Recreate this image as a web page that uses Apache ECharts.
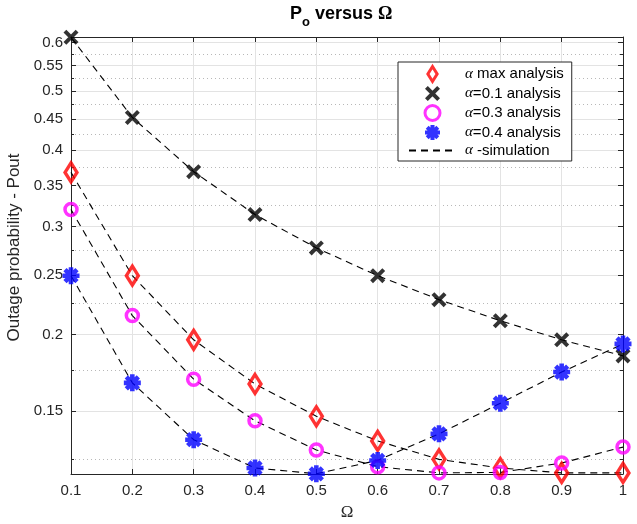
<!DOCTYPE html>
<html>
<head>
<meta charset="utf-8">
<script src="https://cdn.jsdelivr.net/npm/echarts@6/dist/echarts.min.js"></script>
<style>
html,body{margin:0;padding:0;background:#fff;}
#chart{width:637px;height:524px;}
</style>
</head>
<body>
<div id="chart"></div>
<script>
// ---- data ----
const xValues = [0.1, 0.2, 0.3, 0.4, 0.5, 0.6, 0.7, 0.8, 0.9, 1.0];
const alphaMaxAnalysis = [0.368, 0.2495, 0.196, 0.166, 0.147, 0.134, 0.125, 0.121, 0.1188, 0.1188];
const alpha01Analysis  = [0.612, 0.4525, 0.369, 0.314, 0.277, 0.2495, 0.228, 0.2106, 0.196, 0.1845];
const alpha03Analysis  = [0.320, 0.2147, 0.169, 0.1445, 0.1295, 0.1216, 0.1188, 0.119, 0.1233, 0.1309];
const alpha04Analysis  = [0.2495, 0.1667, 0.1346, 0.121, 0.1184, 0.1245, 0.1376, 0.1544, 0.1736, 0.193];
const alphaMaxSim = [0.368, 0.2495, 0.196, 0.166, 0.147, 0.134, 0.125, 0.121, 0.1188, 0.1188];
const alpha01Sim  = [0.612, 0.4525, 0.369, 0.314, 0.277, 0.2495, 0.228, 0.2106, 0.196, 0.1845];
const alpha03Sim  = [0.320, 0.2147, 0.169, 0.1445, 0.1295, 0.1216, 0.1188, 0.119, 0.1233, 0.1309];
const alpha04Sim  = [0.2495, 0.1667, 0.1346, 0.121, 0.1184, 0.1245, 0.1376, 0.1544, 0.1736, 0.193];
const yTickValues = [0.15, 0.2, 0.25, 0.3, 0.35, 0.4, 0.45, 0.5, 0.55, 0.6];
const yTickLabels = ['0.15', '0.2', '0.25', '0.3', '0.35', '0.4', '0.45', '0.5', '0.55', '0.6'];
const yMinorValues = [0.125, 0.175, 0.225, 0.275, 0.325, 0.375, 0.425, 0.475, 0.525, 0.575];
const xTickLabels = ['0.1', '0.2', '0.3', '0.4', '0.5', '0.6', '0.7', '0.8', '0.9', '1'];
const seriesNames = ['α max analysis', 'α=0.1 analysis', 'α=0.3 analysis', 'α=0.4 analysis', 'α -simulation'];
const Y_MIN = 0.1183, Y_MAX = 0.6125;

// ---- symbol shapes ----
function arms(anglesDeg, hw) {
  let d = '';
  anglesDeg.forEach(a => {
    const r = a * Math.PI / 180, c = Math.cos(r), s = Math.sin(r);
    const ux = c, uy = s, vx = -s, vy = c;
    const p = [[-ux - hw * vx, -uy - hw * vy], [ux - hw * vx, uy - hw * vy], [ux + hw * vx, uy + hw * vy], [-ux + hw * vx, -uy + hw * vy]];
    d += 'M' + p.map(q => q[0].toFixed(3) + ',' + q[1].toFixed(3)).join('L') + 'Z';
  });
  return 'path://' + d;
}
const xSymbol = arms([45, 135], 0.23);
const starSymbol = arms([0, 45, 90, 135], 0.27);
const diamondSymbol = 'path://M0,-1L0.62,0L0,1L-0.62,0Z';

const pairs = arr => xValues.map((x, i) => [x, arr[i]]);
const lg = v => Math.log10(v);
const FONT = 'Liberation Sans, Arial, Helvetica, sans-serif';
const SERIF = 'Liberation Serif, Times New Roman, serif';
const AX = '#262626';

function labelFor(v) {
  const i = yTickValues.findIndex(t => Math.abs(lg(t) - v) < 1e-6);
  return i >= 0 ? yTickLabels[i] : '';
}

const chart = echarts.init(document.getElementById('chart'), null, {renderer: 'canvas'});

const scatterBase = {
  type: 'scatter', xAxisIndex: 0, yAxisIndex: 0, z: 5, clip: false,
  emphasis: {disabled: true}
};
const simBase = {
  type: 'line', name: seriesNames[4], xAxisIndex: 0, yAxisIndex: 0, z: 3,
  symbol: 'none', showSymbol: false, clip: false,
  lineStyle: {color: '#000', width: 1.1, type: [7, 5]},
  itemStyle: {color: 'rgba(0,0,0,0)', borderWidth: 0},
  emphasis: {disabled: true}
};

chart.setOption({
  animation: false,
  backgroundColor: '#fff',
  title: {
    text: '{b|P}{s|o}{b| versus }{g|Ω}',
    left: 290, top: 5, padding: 0,
    textStyle: {
      rich: {
        b: {fontSize: 18, fontWeight: 'bold', fontFamily: FONT, color: '#000', verticalAlign: 'top', lineHeight: 20},
        s: {fontSize: 13, fontWeight: 'bold', fontFamily: FONT, color: '#000', verticalAlign: 'top', lineHeight: 14, padding: [11, 0, 0, 0]},
        g: {fontSize: 18, fontFamily: SERIF, color: '#000', verticalAlign: 'top', lineHeight: 20}
      }
    }
  },
  legend: {
    orient: 'vertical', left: 398, top: 62,
    padding: [3, 8, 3, 10],
    itemWidth: 47, itemHeight: 15, itemGap: 3,
    backgroundColor: '#fff', borderColor: AX, borderWidth: 1, borderRadius: 0,
    data: [
      {name: seriesNames[0], itemStyle: {borderWidth: 3, borderColor: '#ff0000'}},
      {name: seriesNames[1]},
      {name: seriesNames[2], itemStyle: {borderWidth: 3, borderColor: '#ff00ff'}},
      {name: seriesNames[3]},
      {name: seriesNames[4], itemStyle: {opacity: 0}}
    ],
    formatter: name => name.replace('α', '{g|α}'),
    textStyle: {
      fontSize: 15, fontFamily: FONT, color: '#000', padding: [0, 0, 0, 4],
      rich: {g: {fontSize: 15, fontFamily: SERIF, fontStyle: 'italic', color: '#000'}}
    },
    selectedMode: false, z: 10
  },
  grid: {left: 71, right: 14, top: 37, bottom: 50, containLabel: false, outerBoundsMode: 'none'},
  xAxis: [
    {
      type: 'value', position: 'bottom', min: 0.1, max: 1, interval: 0.1,
      name: 'Ω', nameLocation: 'middle', nameGap: 30,
      nameTextStyle: {fontSize: 17, fontFamily: SERIF, color: AX},
      axisLine: {show: true, onZero: false, lineStyle: {color: AX, width: 1}},
      axisTick: {show: true, inside: true, length: 5, lineStyle: {color: AX}},
      axisLabel: {fontSize: 15, fontFamily: FONT, color: AX, margin: 9,
        formatter: v => { const i = xValues.findIndex(t => Math.abs(t - v) < 1e-6); return i >= 0 ? xTickLabels[i] : ''; }},
      splitLine: {show: true, lineStyle: {color: '#e3e3e3', width: 1}}
    },
    {
      type: 'value', position: 'top', min: 0.1, max: 1, interval: 0.1,
      axisLine: {show: true, onZero: false, lineStyle: {color: AX, width: 1}},
      axisTick: {show: true, inside: true, length: 5, lineStyle: {color: AX}},
      axisLabel: {show: false}, splitLine: {show: false}
    }
  ],
  yAxis: [
    {
      type: 'log', position: 'left', min: Y_MIN, max: Y_MAX, show: false,
      axisLine: {show: false}, axisTick: {show: false}, axisLabel: {show: false}, splitLine: {show: false}
    },
    {
      type: 'value', position: 'left', min: lg(Y_MIN), max: lg(Y_MAX),
      name: 'Outage probability - Pout', nameLocation: 'middle', nameGap: 47,
      nameTextStyle: {fontSize: 17, fontFamily: FONT, color: AX, padding: [0, 0, 0, 16]},
      axisLine: {show: true, onZero: false, lineStyle: {color: AX, width: 1}},
      axisTick: {show: true, inside: true, length: 5, lineStyle: {color: AX}, customValues: yTickValues.map(lg)},
      axisLabel: {fontSize: 15, fontFamily: FONT, color: AX, margin: 8, customValues: yTickValues.map(lg), formatter: labelFor},
      splitLine: {show: true, lineStyle: {color: '#e3e3e3', width: 1}}
    },
    {
      type: 'value', position: 'left', min: lg(Y_MIN), max: lg(Y_MAX),
      axisLine: {show: false},
      axisTick: {show: true, inside: true, length: 3, lineStyle: {color: AX}, customValues: yMinorValues.map(lg)},
      axisLabel: {show: false},
      splitLine: {show: true, lineStyle: {color: '#b8b8b8', width: 1, type: [1, 3]}}
    },
    {
      type: 'value', position: 'right', min: lg(Y_MIN), max: lg(Y_MAX),
      axisLine: {show: true, onZero: false, lineStyle: {color: AX, width: 1}},
      axisTick: {show: true, inside: true, length: 5, lineStyle: {color: AX}, customValues: yTickValues.map(lg)},
      axisLabel: {show: false}, splitLine: {show: false}
    },
    {
      type: 'value', position: 'right', min: lg(Y_MIN), max: lg(Y_MAX),
      axisLine: {show: false},
      axisTick: {show: true, inside: true, length: 3, lineStyle: {color: AX}, customValues: yMinorValues.map(lg)},
      axisLabel: {show: false}, splitLine: {show: false}
    }
  ],
  series: [
    Object.assign({}, simBase, {data: pairs(alphaMaxSim)}),
    Object.assign({}, simBase, {data: pairs(alpha01Sim)}),
    Object.assign({}, simBase, {data: pairs(alpha03Sim)}),
    Object.assign({}, simBase, {data: pairs(alpha04Sim)}),
    Object.assign({}, scatterBase, {
      name: seriesNames[0], data: pairs(alphaMaxAnalysis),
      symbol: diamondSymbol, symbolSize: [12, 19], symbolKeepAspect: false,
      itemStyle: {color: 'rgba(255,255,255,0)', borderColor: '#ff0000', borderWidth: 3.5}
    }),
    Object.assign({}, scatterBase, {
      name: seriesNames[1], data: pairs(alpha01Analysis),
      symbol: xSymbol, symbolSize: 15,
      itemStyle: {color: '#000'}
    }),
    Object.assign({}, scatterBase, {
      name: seriesNames[2], data: pairs(alpha03Analysis),
      symbol: 'circle', symbolSize: 12,
      itemStyle: {color: 'rgba(255,255,255,0)', borderColor: '#ff00ff', borderWidth: 3.5}
    }),
    Object.assign({}, scatterBase, {
      name: seriesNames[3], data: pairs(alpha04Analysis),
      symbol: starSymbol, symbolSize: 17,
      itemStyle: {color: '#0000ff'}
    })
  ]
});
</script>
</body>
</html>
